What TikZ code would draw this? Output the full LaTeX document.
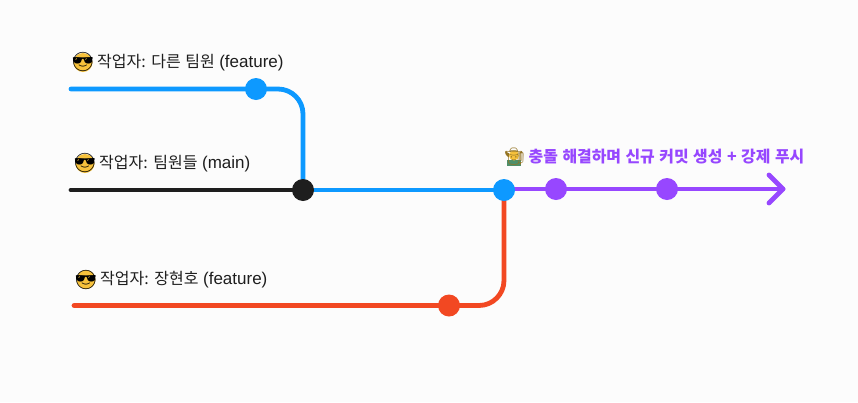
\documentclass[tikz,border=0pt]{standalone}
\usepackage{fontspec}
\setmainfont[WordSpace=1.25]{Noto Sans CJK KR}
\newfontfamily\latf{Liberation Sans}
\newfontfamily\emojifont{Noto Emoji}
\definecolor{bgc}{HTML}{FCFCFC}
\definecolor{cblue}{HTML}{0D99FF}
\definecolor{cblack}{HTML}{1E1E1E}
\definecolor{cred}{HTML}{F24822}
\definecolor{cpurple}{HTML}{9747FF}
\definecolor{cface}{HTML}{F7C23C}
\definecolor{cgreen}{HTML}{4E8F6A}
\tikzset{
  branch/.style={line width=4.8pt,line cap=round,rounded corners=25pt},
  commit/.style={circle,inner sep=0pt,minimum size=22pt},
  lbl/.style={inner sep=0pt,anchor=west,font=\fontsize{16}{18}\selectfont,text=cblack},
  plbl/.style={inner sep=0pt,anchor=west,font=\fontsize{15.9}{18}\selectfont\bfseries,text=cpurple},
  emo/.style={inner sep=0pt,font=\emojifont\fontsize{19}{20}\selectfont},
  face/.style={circle,fill=cface,inner sep=0pt,minimum size=19pt}
}
\newcommand{\lt}[1]{{\latf\fontsize{17}{18}\selectfont #1}}
\begin{document}
\begin{tikzpicture}[x=1pt,y=-1pt]
\useasboundingbox[fill=bgc] (0,0) rectangle (858,402);
% free ends
\coordinate (bs) at (71,89);
\coordinate (ks) at (71,190);
\coordinate (rs) at (74,305.5);
\coordinate (pe) at (783,189);
\coordinate (au) at (769,175);
\coordinate (ad) at (769,203);
\coordinate (bc) at (303,89);
\coordinate (rc) at (504,305.5);
% commits positions
\coordinate (p1) at (256,89);
\coordinate (p2) at (303,190);
\coordinate (p3) at (504,190);
\coordinate (p4) at (556,189);
\coordinate (p5) at (667,189);
\coordinate (p6) at (449,305.5);
% connectors
\draw[branch,cblue] (bs) -- (bc) -- (p2);
\draw[branch,cblack] (ks) -- (p2);
\draw[branch,cblue] (p2) -- (p3);
\draw[branch,cred] (rs) -- (rc) -- (p3);
\draw[branch,cpurple] (p3 |- pe) -- (pe);
\draw[line width=4.8pt,line cap=round,line join=round,cpurple] (au) -- (pe) -- (ad);
% commits
\node[commit,fill=cblue] (c1) at (p1) {};
\node[commit,fill=cblack] (c2) at (p2) {};
\node[commit,fill=cblue] (c3) at (p3) {};
\node[commit,fill=cpurple] (c4) at (p4) {};
\node[commit,fill=cpurple] (c5) at (p5) {};
\node[commit,fill=cred] (c6) at (p6) {};
% labels
\node[face] (f1) at (83,62.5) {};
\node[emo] (e1) at (f1) {😎};
\node[lbl] (l1) at (97,63) {작업자: 다른 팀원 \lt{(feature)}};
\node[face] (f2) at (85,163.5) {};
\node[emo] (e2) at (f2) {😎};
\node[lbl] (l2) at (99,164) {작업자: 팀원들 \lt{(main)}};
\node[face] (f3) at (86,279.5) {};
\node[emo] (e3) at (f3) {😎};
\node[lbl] (l3) at (100,280) {작업자: 장현호 \lt{(feature)}};
\fill[cgreen] (507,166) rectangle (521,160);
\fill[cface] (514,155.5) circle (5pt);
\node[emo,text=cface!60!black,font=\emojifont\fontsize{17}{20}\selectfont] (e4) at (514.5,157) {👩‍🌾};
\node[plbl] (l4) at (528.5,157) {충돌 해결하며 신규 커밋 생성 + 강제 푸시};
\end{tikzpicture}
\end{document}
